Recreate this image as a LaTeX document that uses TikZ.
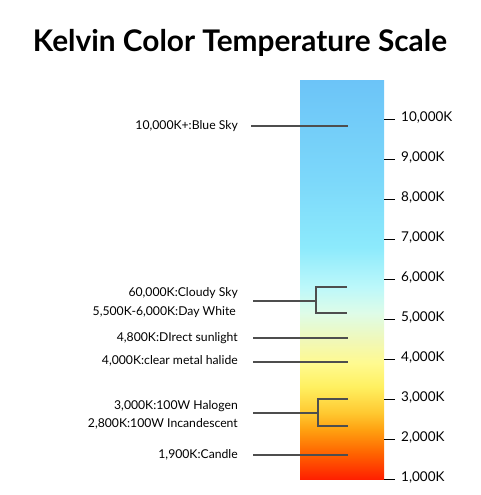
\documentclass[tikz,border=0pt]{standalone}
\usepackage{fontspec}
\setmainfont{Lato}
\definecolor{k0}{HTML}{FF2000}
\definecolor{k1}{HTML}{FF6400}
\definecolor{k2}{HTML}{FFA010}
\definecolor{k3}{HTML}{FFC830}
\definecolor{k4}{HTML}{FFF060}
\definecolor{k5}{HTML}{FFFA90}
\definecolor{k6}{HTML}{F0F8B8}
\definecolor{k7}{HTML}{DEFCE8}
\definecolor{k8}{HTML}{BCF8FA}
\definecolor{k9}{HTML}{8CEAFC}
\definecolor{k10}{HTML}{7CD8FA}
\definecolor{k11}{HTML}{6CC4F8}
\definecolor{linegray}{HTML}{4E4E4E}
\pgfdeclareverticalshading{kelvin}{100bp}{color(0bp)=(k0); color(25bp)=(k0); color(28.26bp)=(k1); color(31.14bp)=(k2); color(33.27bp)=(k3); color(36.53bp)=(k4); color(39.54bp)=(k5); color(42.42bp)=(k6); color(45.8bp)=(k7); color(49.06bp)=(k8); color(54.07bp)=(k9); color(62.47bp)=(k10); color(75bp)=(k11); color(100bp)=(k11)}
\begin{document}
\begin{tikzpicture}[x=1pt,y=-1pt,
  lbl/.style={anchor=east,inner sep=0pt,font=\fontsize{12.2}{14}\selectfont},
  tick/.style={anchor=west,inner sep=0pt,font=\fontsize{13.5}{15}\selectfont},
  conn/.style={draw=linegray,line width=1.5pt},
  tk/.style={draw=black,line width=1pt}]
\useasboundingbox (0,0) rectangle (480,495);
\node[inner sep=0pt,font=\fontsize{29.8}{32}\selectfont\bfseries] (title) at (240,43) {Kelvin Color Temperature Scale};
\path[shading=kelvin] (300,80) rectangle (384,479);
% scale ticks
\foreach \v [count=\i from 0] in {10,9,8,7,6,5,4,3,2,1}{
  \coordinate (ta\i) at (384,{119+40*\i});
  \coordinate (tb\i) at (395,{119+40*\i});
  \draw[tk] (ta\i) -- (tb\i);
  \node[tick] (tl\i) at (401,{118+40*\i}) {\v,000K};
}
% labels
\node[lbl] (blue) at (238,126) {10,000K+:Blue Sky};
\node[lbl] (cloud) at (238,293) {60,000K:Cloudy Sky};
\node[lbl] (day) at (236,312) {5,500K-6,000K:Day White};
\node[lbl] (sun) at (238,338) {4,800K:DIrect sunlight};
\node[lbl] (halide) at (238,361) {4,000K:clear metal halide};
\node[lbl] (halo) at (238,406) {3,000K:100W Halogen};
\node[lbl] (inc) at (238,424) {2,800K:100W Incandescent};
\node[lbl] (candle) at (238,455) {1,900K:Candle};
% connector points
\coordinate (b1) at (251,126); \coordinate (b2) at (348,126);
\coordinate (s1) at (253,338); \coordinate (s2) at (348,338);
\coordinate (h1) at (253,362); \coordinate (h2) at (348,362);
\coordinate (c1) at (253,455); \coordinate (c2) at (348,455);
\coordinate (cs) at (253,301); \coordinate (cv) at (316,301);
\coordinate (ct) at (347,287); \coordinate (cb) at (347,313);
\coordinate (hs) at (253,413); \coordinate (hv) at (318,413);
\coordinate (ht) at (348,399); \coordinate (hb) at (348,426);
\draw[conn] (b1) -- (b2);
\draw[conn] (s1) -- (s2);
\draw[conn] (h1) -- (h2);
\draw[conn] (c1) -- (c2);
\draw[conn] (cs) -- (cv);
\draw[conn] (ct) -| (cv) |- (cb);
\draw[conn] (hs) -- (hv);
\draw[conn] (ht) -| (hv) |- (hb);
\end{tikzpicture}
\end{document}
